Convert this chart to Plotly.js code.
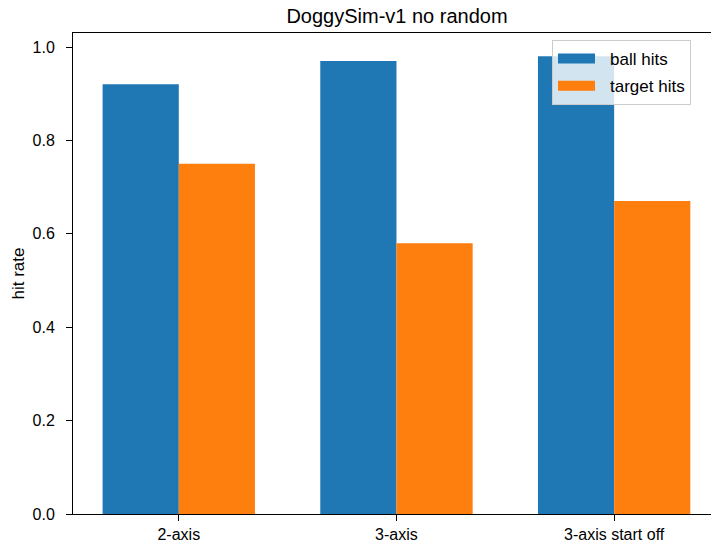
<!DOCTYPE html>
<html>
<head>
<meta charset="utf-8">
<script src="https://cdn.plot.ly/plotly-3.0.1.min.js"></script>
<style>html,body{margin:0;padding:0;background:#fff;}#chart{width:711px;height:546px;}</style>
</head>
<body>
<div id="chart"></div>
<script>
const categories = ["2-axis", "3-axis", "3-axis start off"];
const ballHits = [0.92, 0.97, 0.98];
const targetHits = [0.75, 0.58, 0.67];
const seriesNames = ["ball hits", "target hits"];
const colors = ["#1f77b4", "#ff7f0e"];
const yTicks = [0.0, 0.2, 0.4, 0.6, 0.8, 1.0];

const FONT = "Liberation Sans, Arial, sans-serif";

const traces = [
  {type: "bar", x: categories, y: ballHits, name: seriesNames[0], marker: {color: colors[0]}, showlegend: false, hoverinfo: "y"},
  {type: "bar", x: categories, y: targetHits, name: seriesNames[1], marker: {color: colors[1]}, showlegend: false, hoverinfo: "y"},
  {type: "scatter", mode: "lines", x: [null], y: [null], name: seriesNames[0], legendgroup: "a", line: {color: colors[0], width: 12.7, dash: "37px,60px"}, showlegend: true},
  {type: "scatter", mode: "lines", x: [null], y: [null], name: seriesNames[1], legendgroup: "b", line: {color: colors[1], width: 12.7, dash: "37px,60px"}, showlegend: true}
];

const layout = {
  width: 711, height: 546,
  margin: {l: 73, r: 0, t: 33, b: 32, autoexpand: false},
  paper_bgcolor: "#fff", plot_bgcolor: "#fff",
  font: {family: FONT, size: 16, color: "#000"},
  barmode: "group", bargap: 0.3, bargroupgap: 0,
  title: {text: "DoggySim-v1 no random", font: {family: FONT, size: 20, color: "#000"},
          xref: "container", x: 397/711, xanchor: "center", yref: "container", y: 1 - 16/546, yanchor: "middle"},
  xaxis: {type: "category", range: [-0.486, 2.445], showgrid: false, zeroline: false,
          showline: true, linecolor: "#000", linewidth: 1, mirror: true,
          ticks: "outside", ticklen: 6, tickwidth: 1, tickcolor: "#000",
          tickfont: {family: FONT, size: 16, color: "#000"}, fixedrange: true},
  yaxis: {range: [0, 1.03], tickvals: yTicks, tickformat: ".1f", showgrid: false, zeroline: false,
          showline: true, linecolor: "#000", linewidth: 1, mirror: false,
          ticks: "outside", ticklen: 6, tickwidth: 1, tickcolor: "#000", ticklabelstandoff: 8,
          tickfont: {family: FONT, size: 16, color: "#000"},
          title: {text: "hit rate", font: {family: FONT, size: 17, color: "#000"}, standoff: 3}, fixedrange: true},
  legend: {x: (552-73)/638, xanchor: "left", y: (514-40)/481, yanchor: "top",
           bgcolor: "rgba(255,255,255,0.8)", bordercolor: "#cccccc", borderwidth: 1,
           font: {family: FONT, size: 17, color: "#000"}, itemwidth: 47, tracegroupgap: 2},
  showlegend: true
};

Plotly.newPlot("chart", traces, layout, {displayModeBar: false, staticPlot: true});
</script>
</body>
</html>
